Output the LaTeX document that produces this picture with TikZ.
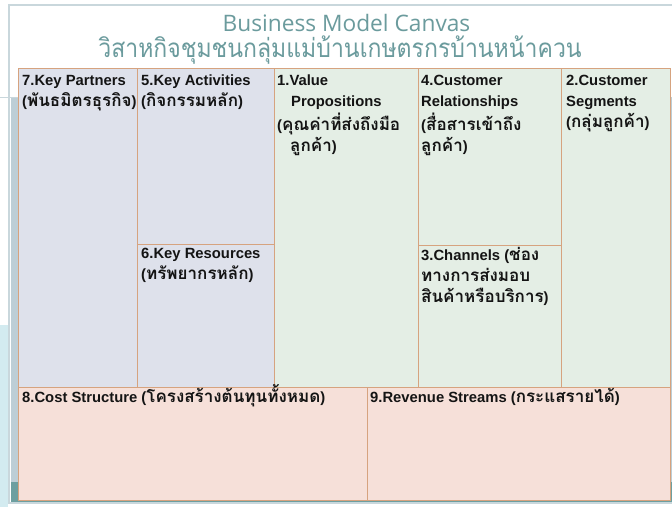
\documentclass[tikz,border=0pt]{standalone}
\usepackage{graphicx}
\usepackage{fontspec}
\setmainfont{Liberation Sans}
\newfontfamily\thaibold[Script=Thai,Scale=1.15]{Loma}
\newfontfamily\titlefont{Open Sans}
\newfontfamily\thaititle[Script=Thai]{Loma}
\newcommand\tht[1]{{\thaibold\bfseries #1}}
\newcommand\cellrows[1]{\begin{tabular}[t]{@{}l@{}}#1\end{tabular}}

\definecolor{cardedge}{HTML}{C9D7DC}
\definecolor{slateband}{HTML}{BDCED6}
\definecolor{tealband}{HTML}{6D9FA0}
\definecolor{sidecyan}{HTML}{D3EBF0}
\definecolor{titlecol}{HTML}{6B9B9D}
\definecolor{lavender}{HTML}{DEE1EB}
\definecolor{mint}{HTML}{E4EEE5}
\definecolor{blush}{HTML}{F6E0D9}
\definecolor{cellrule}{HTML}{D6A37F}
\definecolor{ink}{HTML}{141414}

\tikzset{
  cellbox/.style={draw=cellrule, line width=0.9pt},
  celltext/.style={anchor=base west, inner sep=0pt, text=ink,
    font=\fontsize{14.8}{21}\selectfont\bfseries},
  titletext/.style={inner sep=0pt, text=titlecol, anchor=base},
}

\begin{document}
\begin{tikzpicture}[x=1pt,y=-1pt]
\useasboundingbox (0,0) rectangle (672,507);
\fill[white] (0,0) rectangle (672,507);
\fill[sidecyan] (0,325) rectangle (8,507);

% slide card behind the canvas
\draw[cardedge, line width=1.6pt, fill=white] (9,5) rectangle (690,503);
\fill[slateband] (10.5,97) rectangle (672,482);
\fill[tealband] (10.5,482) rectangle (672,502.2);
\draw[cardedge, line width=0.6pt] (0,97) -- (18,97);

% titles
\node[titletext, font=\titlefont\fontsize{22.7}{27}\selectfont] (title) at (346.5,31) {Business Model Canvas};
\node[titletext, font=\thaititle\fontsize{26}{30}\selectfont] (subtitle) at (340,57) {\scalebox{0.886}[1]{วิสาหกิจชุมชนกลุ่มแม่บ้านเกษตรกรบ้านหน้าควน}};

% canvas blocks
\draw[cellbox, fill=lavender] (18,68) rectangle (137,387);
\draw[cellbox, fill=lavender] (137,68) rectangle (274,244);
\draw[cellbox, fill=lavender] (137,244) rectangle (274,387);
\draw[cellbox, fill=mint] (274,68) rectangle (418,387);
\draw[cellbox, fill=mint] (418,68) rectangle (561,245);
\draw[cellbox, fill=mint] (418,245) rectangle (561,387);
\draw[cellbox, fill=mint] (561,68) rectangle (670,387);
\draw[cellbox, fill=blush] (18,387) rectangle (367,500);
\draw[cellbox, fill=blush] (367,387) rectangle (670,500);

% block labels
\node[celltext] (kp) at (22,85.5) {\cellrows{7.Key Partners\\ (\tht{พันธมิตรธุรกิจ})}};
\node[celltext] (ka) at (141,85.5) {\cellrows{5.Key Activities\\ (\tht{กิจกรรมหลัก})}};
\node[celltext] (vp) at (277,85.5) {\cellrows{1.Value\\ \hspace{14pt}Propositions\\ (\tht{คุณค่าที่ส่งถึงมือ}\\ \hspace{13pt}\tht{ลูกค้า})}};
\node[celltext] (cr) at (421,85.5) {\cellrows{4.Customer\\ Relationships\\ (\tht{สื่อสารเข้าถึง}\\ \tht{ลูกค้า})}};
\node[celltext] (cs) at (566,85.5) {\cellrows{2.Customer\\ Segments\\ (\tht{กลุ่มลูกค้า})}};
\node[celltext] (kr) at (141,258) {\cellrows{6.Key Resources\\ (\tht{ทรัพยากรหลัก})}};
\node[celltext] (ch) at (421,260) {\cellrows{3.Channels (\tht{ช่อง}\\ \tht{ทางการส่งมอบ}\\ \tht{สินค้าหรือบริการ})}};
\node[celltext] (cost) at (22,402) {8.Cost Structure (\tht{โครงสร้างต้นทุนทั้งหมด})};
\node[celltext] (rev) at (370,402) {9.Revenue Streams (\tht{กระแสรายได้})};
\end{tikzpicture}
\end{document}
